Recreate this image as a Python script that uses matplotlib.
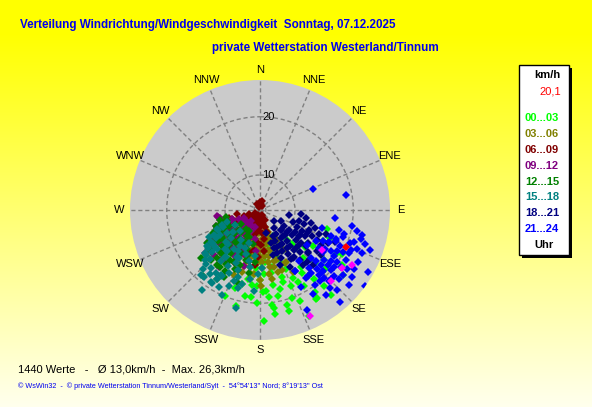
import numpy as np
import matplotlib
matplotlib.use('Agg')
import matplotlib.pyplot as plt
from matplotlib import font_manager
from matplotlib.patches import Rectangle

W, H = 592, 407

# wind direction labels, clockwise from north
compass = ['N', 'NNE', 'NE', 'ENE', 'E', 'ESE', 'SE', 'SSE',
           'S', 'SSW', 'SW', 'WSW', 'W', 'WNW', 'NW', 'NNW']
ring_values = [5, 10, 20]
ring_labels = ['', '10', '20']
speed_min, speed_max = 4.0, 26.3

# (direction in degrees, speed in km/h) per 3 hour block
h00_03 = [(112, 17), (118, 20), (124, 15), (128, 22), (132, 19), (136, 13), (140, 23), (144, 16),
          (146, 21), (150, 12), (152, 18), (155, 24), (158, 14), (160, 20), (162, 17), (164, 22),
          (166, 11), (168, 19), (170, 15), (172, 21), (174, 13), (176, 18), (178, 23), (180, 16),
          (182, 20), (184, 14), (186, 17), (188, 12), (190, 19), (194, 21), (198, 18), (202, 20),
          (150, 10), (156, 15), (163, 12), (171, 9), (179, 13), (142, 19), (138, 11), (134, 16),
          (126, 14), (147, 22), (153, 9), (167, 10), (185, 15), (106, 16), (173, 20.5),
          (130, 14), (134, 17), (138, 15), (142, 18), (146, 17), (150, 19), (154, 17), (158, 18),
          (162, 16), (166, 18), (170, 17), (174, 19), (178, 18), (182, 17), (186, 19), (140, 21),
          (148, 22), (156, 21), (164, 21), (172, 22), (120, 19), (124, 21), (128, 18), (116, 16),
          (190, 16), (194, 17), (160, 13), (168, 14), (176, 15), (136, 12)]
h03_06 = [(150, 12), (155, 14), (158, 10), (160, 15), (163, 9), (165, 13), (168, 11), (170, 16),
          (172, 8), (175, 12), (178, 14), (180, 10), (182, 13), (185, 15), (188, 9), (190, 12),
          (193, 11), (196, 14), (200, 10), (204, 13), (208, 12), (212, 15), (162, 7), (167, 9),
          (173, 11), (177, 6), (183, 8), (187, 10), (192, 7), (198, 9), (152, 16), (157, 11),
          (171, 13), (179, 17), (186, 11), (195, 8), (202, 16), (166, 14), (174, 10), (181, 12),
          (189, 15), (159, 8), (169, 12), (176, 9), (184, 13),
          (158, 12), (162, 13), (166, 11), (170, 14), (174, 12), (178, 13), (182, 11), (186, 12),
          (190, 14), (194, 13), (160, 9), (168, 9), (176, 11), (184, 10), (192, 10), (164, 15),
          (172, 15), (180, 16), (188, 16), (196, 15), (150, 10), (146, 12), (154, 14), (200, 12),
          (204, 14), (170, 10), (180, 12), (190, 11), (165, 8), (185, 8)]
h06_09 = [(350, 4.5), (10, 5), (25, 4.8), (335, 5.2), (200, 6), (205, 7), (210, 5.5), (215, 8),
          (220, 6.5), (225, 9), (230, 7.5), (235, 10), (240, 6), (245, 8.5), (250, 7), (255, 9.5),
          (260, 8), (190, 5.5), (195, 7), (185, 6), (180, 5), (175, 5.5), (212, 10.5), (218, 11),
          (228, 9.5), (238, 11), (248, 10), (222, 6), (232, 8), (242, 7), (207, 9), (197, 8.5),
          (187, 7.5), (203, 11.5), (213, 12), (223, 7), (233, 12.5), (170, 6.5), (165, 5),
          (243, 12), (253, 9), (217, 8.5), (227, 10), (237, 6.5), (247, 11.5), (0, 5.3), (15, 5.6),
          (160, 5), (170, 6), (180, 7), (190, 8), (200, 9), (175, 8), (185, 9.5), (195, 6.5),
          (205, 5), (215, 6), (225, 5.5), (235, 5), (165, 7), (178, 10), (188, 11), (198, 10),
          (208, 8), (218, 7), (228, 8), (182, 12), (192, 13), (172, 9), (162, 8), (152, 6),
          (200, 12), (210, 13), (220, 10.5), (230, 11), (240, 9), (250, 6), (175, 11), (185, 13.5),
          (195, 11.5), (205, 14)]
h09_12 = [(200, 9), (205, 11), (210, 13), (214, 8), (218, 12), (222, 14), (226, 10), (230, 15),
          (234, 11), (238, 13), (242, 9), (246, 12), (250, 12), (254, 10), (258, 11), (262, 11.4),
          (212, 7), (216, 16), (224, 9), (228, 12), (236, 8), (240, 13), (244, 11), (248, 12),
          (252, 10), (220, 13), (232, 16), (208, 10), (256, 11), (260, 11.4), (203, 12), (207, 14),
          (213, 10), (219, 15), (225, 11), (231, 13), (237, 13.8), (243, 13), (249, 9), (215, 8),
          (227, 7), (239, 10), (245, 12), (221, 11), (233, 14),
          (198, 7), (204, 8), (210, 9), (216, 10), (222, 8), (228, 9), (234, 10), (240, 11),
          (246, 8), (252, 9), (200, 12), (206, 13), (212, 11), (218, 12), (224, 14), (230, 12),
          (236, 10), (242, 12), (248, 11), (254, 10), (190, 9), (186, 11), (196, 14), (202, 10),
          (214, 14.5), (226, 15), (238, 14.5), (244, 7), (232, 7), (220, 6.5)]
h12_15 = [(195, 12), (200, 14), (205, 10), (210, 16), (214, 13), (218, 11), (222, 15), (226, 9),
          (230, 16), (234, 12), (238, 14.7), (242, 10), (246, 12), (250, 12), (254, 10), (258, 10),
          (212, 18), (216, 8), (224, 16), (228, 10), (236, 12), (240, 9), (244, 13), (248, 11),
          (203, 15), (208, 17), (220, 13), (232, 15), (252, 10), (256, 11), (198, 17), (207, 9),
          (213, 11), (219, 14), (225, 12), (231, 17), (237, 14), (243, 11), (215, 16), (227, 10),
          (239, 13), (233, 8), (221, 19), (211, 14), (229, 12),
          (192, 10), (198, 11), (204, 12), (210, 11), (216, 13), (222, 12), (228, 11), (234, 13),
          (240, 12), (246, 12), (252, 11), (200, 15), (206, 14), (212, 15), (218, 16), (224, 14),
          (230, 15), (236, 14), (242, 13), (248, 12), (186, 13), (190, 15), (196, 13), (202, 9),
          (208, 8), (214, 10), (220, 9), (226, 13), (232, 10), (238, 9)]
h15_18 = [(190, 14), (194, 21.3), (198, 16), (202, 18), (206, 13), (210, 17), (214, 19), (218, 15),
          (222, 19), (226, 16), (230, 14), (234, 15), (238, 13), (242, 13), (246, 11), (250, 10),
          (212, 10), (216, 21), (224, 12), (228, 16.7), (236, 14), (240, 9), (204, 20), (208, 12),
          (220, 17), (232, 16), (196, 18), (200, 15), (244, 12), (248, 11), (199, 10), (209, 11),
          (215, 17.1), (219, 13), (225, 17), (231, 10), (237, 14), (213, 19), (227, 12), (217, 14),
          (223, 9), (203, 13), (211, 17), (229, 15), (235, 11),
          (186, 12), (192, 13), (198, 12), (204, 14), (210, 15), (216, 14), (222, 13), (228, 14),
          (234, 14), (240, 13), (246, 12), (188, 16), (194, 17), (200, 17), (206, 16), (212, 18),
          (218, 18), (224, 18), (230, 16), (236, 15), (242, 14), (182, 15), (178, 14), (184, 18),
          (202, 11), (214, 12), (226, 11), (238, 12), (208, 19), (220, 19)]
h18_21 = [(100, 9), (105, 11), (110, 10), (115, 13), (118, 8), (122, 12), (125, 14), (128, 11),
          (131, 15), (134, 9), (137, 13), (140, 12), (143, 10), (146, 14), (150, 11), (154, 9),
          (158, 12), (162, 10), (166, 8), (120, 16), (126, 17), (132, 15), (138, 16), (144, 14),
          (112, 15), (108, 12), (116, 17), (124, 10), (130, 12), (136, 17), (142, 8), (148, 13),
          (152, 15), (127, 7), (133, 9), (139, 11), (117, 12), (123, 9), (129, 13), (135, 10),
          (141, 15), (147, 11), (113, 18), (156, 13), (160, 14),
          (108, 14), (112, 13), (116, 14), (120, 13), (124, 12), (128, 14), (132, 13), (136, 14),
          (140, 13), (144, 12), (148, 14), (152, 12), (156, 11), (110, 16), (118, 15), (126, 16),
          (134, 16), (142, 16), (150, 16), (114, 11), (122, 11), (130, 10), (138, 10), (146, 9),
          (154, 10), (160, 11), (164, 12), (104, 13), (100, 12), (96, 11)]
h21_24 = [(68, 13.8), (80, 19), (96, 17), (100, 20), (104, 22), (108, 19), (110, 24), (112, 18),
          (114, 21), (116, 16), (118, 23), (120, 25.4), (122, 19), (124, 22), (126, 26.2), (128, 20),
          (130, 24), (132, 18), (134, 21), (136, 23), (138, 19), (140, 17), (142, 22.4), (144, 20),
          (146, 18), (150, 16), (155, 23), (106, 15), (115, 17), (119, 15), (123, 16), (127, 14),
          (131, 22), (135, 19), (139, 25), (143, 15), (111, 18), (117, 20), (121, 17), (125, 21),
          (129, 19), (133, 16), (137, 20), (141, 18), (113, 23), (109, 21), (110, 20.4),
          (102, 21), (106, 22), (108, 23), (112, 22), (116, 21), (118, 19), (120, 21), (122, 23),
          (124, 20), (126, 19), (128, 22), (130, 20), (132, 21), (134, 19), (136, 21), (138, 22),
          (120, 18), (124, 17), (128, 18), (132, 17), (136, 18), (114, 19), (110, 17), (106, 19),
          (104, 18), (140, 20), (144, 18), (148, 21), (152, 19), (126, 23.5)]
peak_values = [(123, 16.7), (125, 21.2), (135, 21.2), (155, 24.1), (121, 22.4)]
current_value = [(113, 20.1)]

time_blocks = ['00...03', '03...06', '06...09', '09...12', '12...15', '15...18', '18...21', '21...24']
block_colors = ['#00ff00', '#808000', '#800000', '#800080', '#008000', '#008080', '#000080', '#0000ff']
block_data = [h00_03, h03_06, h06_09, h09_12, h12_15, h15_18, h18_21, h21_24]


def pick_font(names):
    for n in names:
        try:
            font_manager.findfont(font_manager.FontProperties(family=n), fallback_to_default=False)
            return n
        except ValueError:
            pass
    return 'DejaVu Sans'


sans = pick_font(['Liberation Sans', 'Arial'])


def fx(x):
    return x / W


def fy(y):
    return 1 - y / H


fig = plt.figure(figsize=(W / 100, H / 100), dpi=100)

# yellow gradient background
bg = fig.add_axes([0, 0, 1, 1], zorder=-10)
grad = np.linspace(0, 1, 256)
img = np.ones((256, 1, 3))
img[:, 0, 2] = np.clip((grad - 0.08) / 0.92, 0, 1) * 0.93
bg.imshow(img, aspect='auto', extent=[0, 1, 0, 1])
bg.axis('off')

# polar plot, center (260, 210), radius 130 px
cx, cy, rad = 260, 210, 130
ax = fig.add_axes([fx(cx - rad), fy(cy + rad), 2 * rad / W, 2 * rad / H], projection='polar')
ax.set_facecolor('#cbcbcb')
ax.set_theta_zero_location('N')
ax.set_theta_direction(-1)
ax.set_ylim(speed_min, speed_max)
ax.spines['polar'].set_visible(False)

ax.set_thetagrids(np.arange(0, 360, 22.5), compass, fontsize=8, family=sans)
ax.tick_params(axis='x', pad=-3)
ax.set_rgrids(ring_values, [''] * len(ring_values))
ax.grid(True, color='#808080', linestyle=(0, (3, 2)), linewidth=1)

for v, lab in zip(ring_values, ring_labels):
    if lab:
        ax.annotate(lab, xy=(0, v), xytext=(2, 0), textcoords='offset pixels',
                    ha='left', va='center', fontsize=8, family=sans, color='black')

for pts, col in zip(block_data, block_colors):
    d = np.radians([p[0] for p in pts])
    s = [p[1] for p in pts]
    ax.plot(d, s, 'D', color=col, ms=3.6, mew=0)

for pts, col in [(peak_values, '#ff00ff'), (current_value, '#ff0000')]:
    d = np.radians([p[0] for p in pts])
    s = [p[1] for p in pts]
    ax.plot(d, s, 'D', color=col, ms=3.6, mew=0)

# titles
fig.text(fx(20), fy(25), 'Verteilung Windrichtung/Windgeschwindigkeit  Sonntag, 07.12.2025',
         ha='left', va='center', fontsize=8.4, weight='bold', color='#0000ee', family=sans)
fig.text(fx(439), fy(48), 'private Wetterstation Westerland/Tinnum',
         ha='right', va='center', fontsize=8.4, weight='bold', color='#0000ee', family=sans)

# legend box with shadow
bx0, by0, bx1, by1 = 519, 65, 569, 255
fig.patches.append(Rectangle((fx(bx0 + 3), fy(by1 + 3)), (bx1 - bx0) / W, (by1 - by0) / H,
                             transform=fig.transFigure, facecolor='black', edgecolor='none', zorder=1))
fig.patches.append(Rectangle((fx(bx0), fy(by1)), (bx1 - bx0) / W, (by1 - by0) / H,
                             transform=fig.transFigure, facecolor='white', edgecolor='black',
                             linewidth=1, zorder=2))
fig.text(fx(547), fy(75), 'km/h', ha='center', va='center', fontsize=8, weight='bold', family=sans, zorder=3)
fig.text(fx(550), fy(92), '20,1', ha='center', va='center', fontsize=8, color='#ff0000', family=sans, zorder=3)
for i, (lab, col) in enumerate(zip(time_blocks, block_colors)):
    fig.text(fx(542), fy(118 + 15.9 * i), lab, ha='center', va='center', fontsize=8,
             weight='bold', color=col, family=sans, zorder=3)
fig.text(fx(544), fy(245), 'Uhr', ha='center', va='center', fontsize=8, weight='bold', family=sans, zorder=3)

# footer
fig.text(fx(18), fy(369), '1440 Werte   -   Ø 13,0km/h  -  Max. 26,3km/h',
         ha='left', va='center', fontsize=8, family=sans)
fig.text(fx(18), fy(386),
         "© WsWin32  -  © private Wetterstation Tinnum/Westerland/Sylt  -  54°54'13'' Nord; 8°19'13'' Ost",
         ha='left', va='center', fontsize=5.25, color='#0000ee', family=sans)

fig.savefig('out.png', dpi=100)
